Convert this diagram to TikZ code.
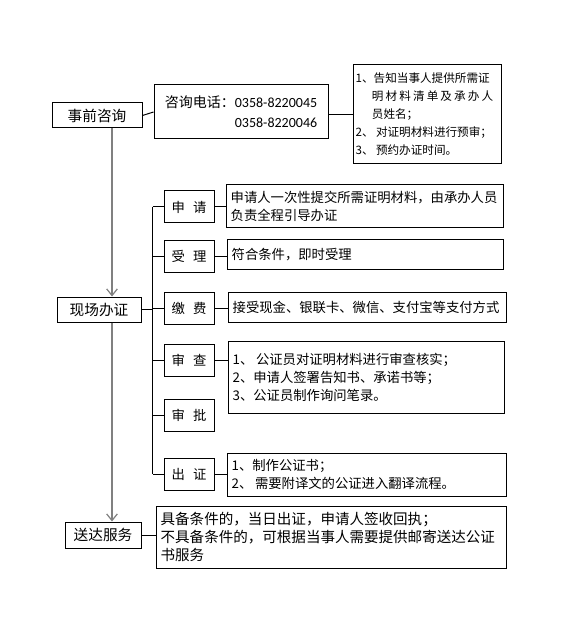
\documentclass[tikz,border=0pt]{standalone}
\usepackage{fontspec}
\setmainfont{Noto Sans CJK SC}
\newfontfamily\numfont{Carlito}
\usetikzlibrary{arrows.meta,calc}

\begin{document}
\begin{tikzpicture}[x=0.75pt,y=-0.75pt,
    box/.style={draw, line width=0.75pt, inner sep=0pt},
    head/.style={box, minimum height=18.75pt, font=\fontsize{11}{13}\selectfont},
    stage/.style={box, minimum width=37.5pt, minimum height=24pt, font=\fontsize{10}{12}\selectfont},
    info/.style={box, inner xsep=3.5pt, align=left, text width=#1, font=\fontsize{10}{13.5}\selectfont},
    link/.style={line width=0.75pt},
    flow/.style={draw=gray, line width=0.9pt, -{Straight Barb[length=5pt,width=8pt]}}]
    \useasboundingbox (0,0) rectangle (567,634);

    % main steps
    \node[head, minimum width=67.5pt] (zq) at (97,115.5) {事前咨询};
    \node[head, minimum width=63pt] (xc) at (99,309.5) {现场办证};
    \node[head, minimum width=57pt, minimum height=19.5pt] (sd) at (103,535) {送达服务};

    % consultation
    \node[box, minimum width=130.5pt, minimum height=40.5pt, align=left,
          font=\fontsize{10.5}{15}\selectfont] (dh) at (241,112)
        {咨询电话：{\numfont 0358-8220045}\\\phantom{咨询电话：}{\numfont 0358-8220046}};
    \node[box, inner xsep=2pt, text width=107pt, minimum height=74.25pt, align=left,
          font=\fontsize{8.7}{13.5}\selectfont] (tz) at (427,114.5)
        {1、告知当事人提供所需证\\
         \hspace*{1.4em}\makebox[91pt][s]{明\hfill 材\hfill 料\hfill 清\hfill 单\hfill 及\hfill 承\hfill 办\hfill 人}\\
         \hspace*{1.4em}员姓名；\\
         2、\hspace{0.2em}对证明材料进行预审；\\
         3、\hspace{0.2em}预约办证时间。};

    % on-site stages
    \node[stage] (sq) at (189,207) {申\hspace{0.6em}请};
    \node[stage] (sl) at (189,256.5) {受\hspace{0.6em}理};
    \node[stage] (jf) at (189,308) {缴\hspace{0.6em}费};
    \node[stage] (sc) at (189,360) {审\hspace{0.6em}查};
    \node[stage] (sp) at (189,415.5) {审\hspace{0.6em}批};
    \node[stage] (cz) at (189,474) {出\hspace{0.6em}证};

    % details
    \node[info=200.75pt, minimum height=32.25pt] (sqtxt) at (364.5,206.5)
        {申请人一次性提交所需证明材料，由承办人员\\负责全程引导办证};
    \node[info=200pt, minimum height=21.75pt] (sltxt) at (365,254.5) {符合条件，即时受理};
    \node[info=201.5pt, minimum height=22.5pt] (jftxt) at (367,307)
        {接受现金、银联卡、微信、支付宝等支付方式};
    \node[info=200pt, minimum height=54pt] (sctxt) at (366,377)
        {1、\hspace{0.2em}公证员对证明材料进行审查核实；\\2、申请人签署告知书、承诺书等；\\3、公证员制作询问笔录。};
    \node[info=202.25pt, minimum height=32.25pt] (cztxt) at (366.5,474.5)
        {1、制作公证书；\\2、\hspace{0.2em}需要附译文的公证进入翻译流程。};
    \node[info=255.5pt, minimum height=46.5pt, font=\fontsize{10.9}{13.5}\selectfont] (sdtxt) at (331,537)
        {具备条件的，当日出证，申请人签收回执；\\不具备条件的，可根据当事人需要提供邮寄送达公证\\书服务};

    % connectors
    \coordinate (trunk) at (112,0);
    \coordinate (spine) at (152.5,0);
    \draw[flow] (zq.south -| trunk) -- (xc.north -| trunk);
    \draw[flow] (xc.south -| trunk) -- (sd.north -| trunk);
    \draw[link] (zq.east) -- (dh.west);
    \draw[link] (tz.west -| dh.east) -- (tz.west);
    \draw[link] (xc.east) -- (xc.east -| spine);
    \draw[link] (sq.west -| spine) -- (cz.west -| spine);
    \foreach \s in {sq,sl,jf,sc,sp,cz}
        \draw[link] (\s.west -| spine) -- (\s.west);
    \foreach \s/\t in {sq/sqtxt,sl/sltxt,jf/jftxt,sc/sctxt,cz/cztxt,sd/sdtxt}
        \draw[link] (\s.east) -- (\s.east -| \t.west);
\end{tikzpicture}
\end{document}
